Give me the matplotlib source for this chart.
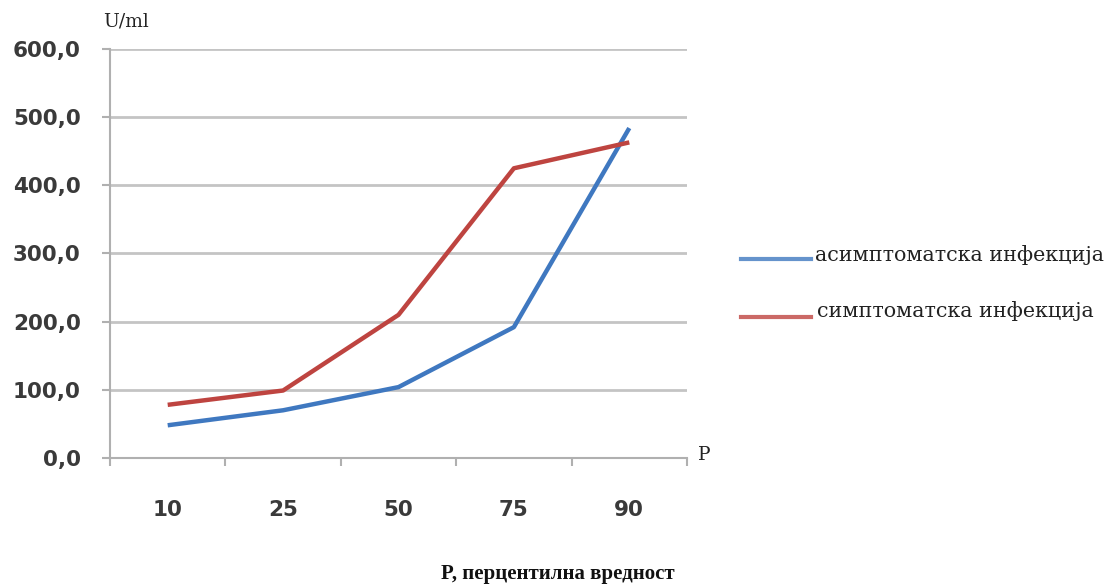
import matplotlib
matplotlib.use("Agg")
import matplotlib.pyplot as plt
from matplotlib.lines import Line2D

categories = ["10", "25", "50", "75", "90"]
asymptomatic = [48, 70, 104, 192, 484]
symptomatic = [78, 99, 210, 425, 463]
y_ticks = [0, 100, 200, 300, 400, 500, 600]
y_tick_labels = ["0,0", "100,0", "200,0", "300,0", "400,0", "500,0", "600,0"]
series_names = ["асимптоматска инфекција", "симптоматска инфекција"]

W, H = 1111, 588
fig = plt.figure(figsize=(W / 100, H / 100), dpi=100)
ax = fig.add_axes([110 / W, 1 - 458 / H, (687 - 110) / W, (458 - 49) / H])

blue = "#3f78c0"
red = "#be4440"
x = list(range(len(categories)))
ax.plot(x, asymptomatic, color=blue, lw=3.2, solid_capstyle="butt", zorder=3)
ax.plot(x, symptomatic, color=red, lw=3.2, solid_capstyle="butt", zorder=3)

ax.set_xlim(-0.5, len(categories) - 0.5)
ax.set_ylim(0, 600)
ax.set_yticks(y_ticks)
ax.set_yticklabels(y_tick_labels, fontfamily="DejaVu Sans", fontweight="bold",
                   fontsize=15.5, color="#3a3a3a")
ax.set_xticks(x)
ax.set_xticklabels(categories, fontfamily="DejaVu Sans", fontweight="bold",
                   fontsize=15.5, color="#3a3a3a")
ax.set_xticks([i - 0.5 for i in range(len(categories) + 1)], minor=True)
ax.tick_params(axis="x", which="major", length=0, pad=30)
ax.tick_params(axis="x", which="minor", length=6, width=1.5, color="#b0b0b0")
ax.tick_params(axis="y", length=6, width=1.5, color="#b0b0b0", pad=15)

ax.grid(axis="y", color="#c4c4c4", lw=2)
ax.set_axisbelow(True)
for s in ["top", "right"]:
    ax.spines[s].set_visible(False)
for s in ["left", "bottom"]:
    ax.spines[s].set_color("#b0b0b0")
    ax.spines[s].set_linewidth(1.5)

serif = "DejaVu Serif"
fig.text(103 / W, 1 - 22 / H, "U/ml", fontfamily=serif,
         fontsize=13.5, va="center", ha="left", color="#222222")
fig.text(698 / W, 1 - 455 / H, "P", fontfamily=serif,
         fontsize=13.5, va="center", ha="left", color="#222222")

# legend on the right
for yy, ty, col, name, tx in [(259, 255, blue, series_names[0], 815),
                              (317, 311, red, series_names[1], 817)]:
    fig.add_artist(Line2D([741 / W, 811 / W], [1 - yy / H, 1 - yy / H],
                          color=col, lw=3, alpha=0.8,
                          transform=fig.transFigure))
    fig.text(tx / W, 1 - ty / H, name, fontfamily=serif,
             fontsize=14.9, va="center", ha="left", color="#222222")

fig.text(558 / W, 1 - 574 / H, "P, перцентилна вредност",
         fontfamily="Liberation Serif", fontweight="bold", fontsize=15,
         va="center", ha="center", color="#111111")

fig.savefig("out.png", dpi=100)
